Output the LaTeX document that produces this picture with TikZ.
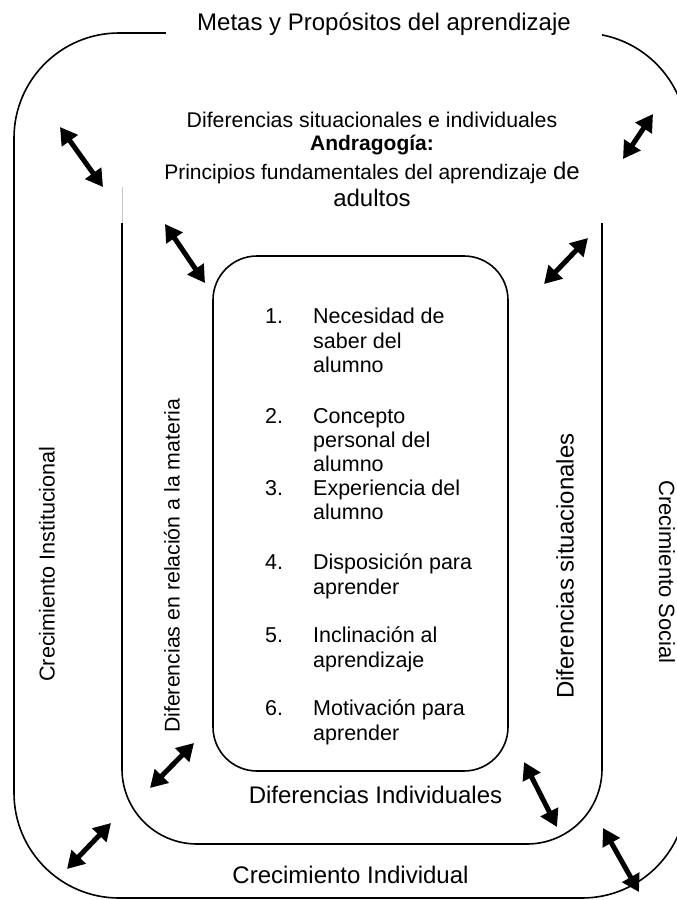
\documentclass[tikz,border=0pt]{standalone}
\usepackage{fontspec}
\setmainfont{Liberation Sans}
\usetikzlibrary{arrows.meta}
\newcommand\setfs[1]{\fontsize{#1}{#1}\selectfont}
\tikzset{
  frame/.style={line width=1.6pt},
  biarrow/.style={line width=5pt, {Triangle[length=17pt,width=19pt]}-{Triangle[length=17pt,width=19pt]}},
  txt/.style={inner sep=0pt, anchor=base},
  numtxt/.style={inner sep=0pt, anchor=base west},
  vtxt/.style={inner sep=0pt, anchor=center},
}
\begin{document}
\begin{tikzpicture}[x=1pt,y=-1pt]
\useasboundingbox (0,0) rectangle (677,900);
% outer frame
\draw[frame, rounded corners=105pt] (14,33) rectangle (687,898);
\fill[white] (166,6) rectangle (602,42);
\node[txt] (title) at (384,30) {\setfs{24}Metas y Propósitos del aprendizaje};
% middle frame (open at top)
\draw[frame, rounded corners=75pt] (122,223) -- (122,844) -- (602,844) -- (602,223);
\draw[gray!45, line width=0.8pt] (122,187) -- (122,223);
% inner frame
\draw[frame, rounded corners=44pt] (213,256) rectangle (508,771);
% top texts
\node[txt] (t1) at (372,127) {\setfs{21.3}Diferencias situacionales e individuales};
\node[txt] (t2) at (372,150) {\setfs{21}\bfseries Andragogía:};
\node[txt] (t3) at (372,179) {\setfs{21}Principios fundamentales del aprendizaje \setfs{24}de};
\node[txt] (t4) at (372,206) {\setfs{24}adultos};
% side texts
\node[vtxt, rotate=90] (ci) at (47,564) {\setfs{21.6}Crecimiento Institucional};
\node[vtxt, rotate=90] (dm) at (172,566) {\setfs{21.3}Diferencias en relación a la materia};
\node[vtxt, rotate=90] (ds) at (565,566) {\setfs{24}Diferencias situacionales};
\node[vtxt, rotate=-90] (cs) at (667,572) {\setfs{22}Crecimiento Social};
% bottom texts
\node[txt] (di) at (375.5,803) {\setfs{24}Diferencias Individuales};
\node[txt] (cind) at (350.5,883) {\setfs{24}Crecimiento Individual};
% list
\begin{scope}[every node/.style={numtxt}]
\setfs{21.5}
\node (n1) at (265,323) {1.};
\node (l1a) at (313,323) {Necesidad de};
\node (l1b) at (313,348) {saber del};
\node (l1c) at (313,372) {alumno};
\node (n2) at (265,423) {2.};
\node (l2a) at (313,423) {Concepto};
\node (l2b) at (313,447) {personal del};
\node (l2c) at (313,471) {alumno};
\node (n3) at (265,495) {3.};
\node (l3a) at (313,495) {Experiencia del};
\node (l3b) at (313,519) {alumno};
\node (n4) at (265,569) {4.};
\node (l4a) at (313,569) {Disposición para};
\node (l4b) at (313,594) {aprender};
\node (n5) at (265,642) {5.};
\node (l5a) at (313,642) {Inclinación al};
\node (l5b) at (313,667) {aprendizaje};
\node (n6) at (265,715) {6.};
\node (l6a) at (313,715) {Motivación para};
\node (l6b) at (313,740) {aprender};
\end{scope}
% arrow end points
\coordinate (a1s) at (60,127);  \coordinate (a1e) at (103,187);
\coordinate (a2s) at (653,114); \coordinate (a2e) at (623,159);
\coordinate (a3s) at (165,224); \coordinate (a3e) at (205,283);
\coordinate (a4s) at (588,238); \coordinate (a4e) at (544,284);
\coordinate (a5s) at (194,743); \coordinate (a5e) at (150,788);
\coordinate (a6s) at (524,762); \coordinate (a6e) at (557,827);
\coordinate (a7s) at (111,823); \coordinate (a7e) at (67,869);
\coordinate (a8s) at (603,828); \coordinate (a8e) at (639,892);
\foreach \i in {1,...,8} {\draw[biarrow] (a\i s) -- (a\i e);}
\end{tikzpicture}
\end{document}
